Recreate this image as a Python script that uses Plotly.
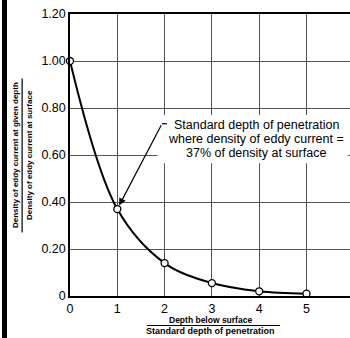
import plotly.graph_objects as go

# Data
depth_ratio = [0, 1, 2, 3, 4, 5]
density_ratio = [1.0, 0.37, 0.14, 0.055, 0.02, 0.01]

x_tickvals = [0, 1, 2, 3, 4, 5, 6]
x_ticktext = ["0", "1", "2", "3", "4", "5", "6"]
y_tickvals = [0, 0.2, 0.4, 0.6, 0.8, 1.0, 1.2]
y_ticktext = ["0", "0.20", "0.40", "0.60", "0.80", "1.00", "1.20"]

note_lines = ["Standard depth of penetration",
              "where density of eddy current =",
              "37% of density at surface"]

FONT = "Liberation Sans"

fig = go.Figure()
fig.add_trace(go.Scatter(
    x=depth_ratio, y=density_ratio,
    mode="lines+markers",
    line=dict(color="black", width=2, shape="spline", smoothing=1.0),
    marker=dict(symbol="circle", size=7, color="white",
                line=dict(color="black", width=1.3)),
    cliponaxis=False,
    showlegend=False,
))

# Left page border (thin filled box), drawn first
fig.add_shape(type="rect", xref="paper", yref="paper", x0=-0.2429, x1=-0.2250,
              y0=-0.15, y1=1.05, fillcolor="black", line=dict(width=0), layer="above")

# White box behind the annotation text (hides gridlines)
fig.add_shape(type="rect", xref="x", yref="y", x0=1.85, x1=5.87, y0=0.565, y1=0.77,
              fillcolor="white", line=dict(width=0), layer="between")

for i, line in enumerate(note_lines):
    fig.add_annotation(
        x=3.94, y=0.727, xref="x", yref="y", yshift=-13.8 * i,
        xanchor="center", yanchor="middle", borderpad=0,
        text=line, showarrow=False,
        font=dict(family=FONT, size=12.5, color="black"),
    )
# leader with arrow
fig.add_annotation(
    x=1.0, y=0.37, xref="x", yref="y",
    ax=1.945, ay=0.733, axref="x", ayref="y",
    text="", showarrow=True, arrowhead=2, arrowsize=1.2, arrowwidth=1.2,
    arrowcolor="black", standoff=4,
)
fig.add_shape(type="line", xref="x", yref="y", x0=1.945, x1=2.05, y0=0.733, y1=0.733,
              line=dict(color="black", width=1.2))

# X axis title (fraction)
fig.add_annotation(x=0.5, y=0, xref="paper", yref="paper", yshift=-23.5,
                   xanchor="center", yanchor="middle", borderpad=0,
                   text="<b>Depth below surface</b>", showarrow=False,
                   font=dict(family=FONT, size=8.5, color="black"))
fig.add_annotation(x=0.5, y=0, xref="paper", yref="paper", yshift=-35,
                   xanchor="center", yanchor="middle", borderpad=0,
                   text="<b>Standard depth of penetration</b>", showarrow=False,
                   font=dict(family=FONT, size=9, color="black"))
fig.add_shape(type="line", xref="paper", yref="paper", x0=0.275, x1=0.75,
              y0=-0.1046, y1=-0.1046, line=dict(color="black", width=1.2))

# Y axis title (fraction)
fig.add_annotation(x=0, y=0.5, xref="paper", yref="paper", xshift=-55,
                   xanchor="center", yanchor="middle", borderpad=0,
                   text="<b>Density of eddy current at given depth</b>", textangle=-90,
                   showarrow=False, font=dict(family=FONT, size=8, color="black"))
fig.add_annotation(x=0, y=0.5, xref="paper", yref="paper", xshift=-41,
                   xanchor="center", yanchor="middle", borderpad=0,
                   text="<b>Density of eddy current at surface</b>", textangle=-90,
                   showarrow=False, font=dict(family=FONT, size=8, color="black"))
fig.add_shape(type="line", xref="paper", yref="paper", x0=-0.171, x1=-0.171,
              y0=0.225, y1=0.771, line=dict(color="black", width=1.2))

fig.update_xaxes(range=[0, 5.92], tickvals=x_tickvals, ticktext=x_ticktext,
                 showgrid=True, gridcolor="#555555", gridwidth=1,
                 showline=True, linecolor="black", linewidth=1.5, mirror=True,
                 zeroline=False, ticks="",
                 tickfont=dict(family=FONT, size=12.5, color="black"))
fig.update_yaxes(range=[0, 1.2], tickvals=y_tickvals, ticktext=y_ticktext,
                 showgrid=True, gridcolor="#555555", gridwidth=1,
                 showline=True, linecolor="black", linewidth=1.5, mirror=False,
                 zeroline=False, ticks="",
                 tickfont=dict(family=FONT, size=12.5, color="black"))

fig.update_layout(
    width=350, height=338,
    margin=dict(l=70, r=0, t=14, b=42),
    plot_bgcolor="white", paper_bgcolor="white",
)

fig.write_html("out.html", config={"displayModeBar": False},
               post_script="document.body.style.margin='0px';document.body.style.overflow='hidden';")
